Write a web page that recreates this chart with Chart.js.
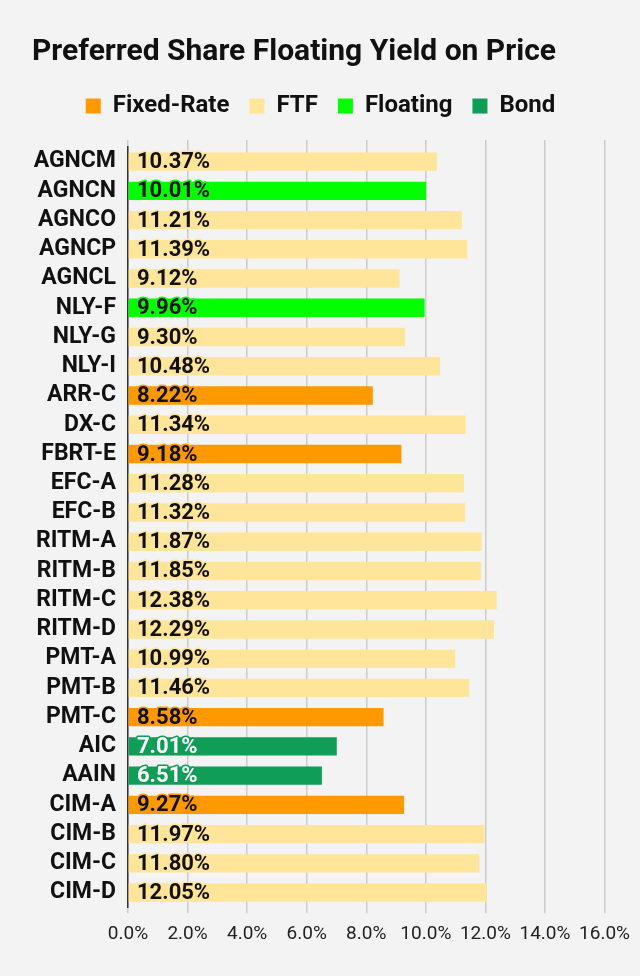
<!DOCTYPE html>
<html>
<head>
<meta charset="utf-8">
<script src="https://cdn.jsdelivr.net/npm/chart.js@4.4.1/dist/chart.umd.min.js"></script>
<style>
  html, body { margin: 0; padding: 0; background: #f3f3f3; }
  #wrap { width: 640px; height: 976px; }
</style>
</head>
<body>
<div id="wrap"><canvas id="yieldChart" width="640" height="976"></canvas></div>
<script>
// chart values
const tickers = ["AGNCM", "AGNCN", "AGNCO", "AGNCP", "AGNCL", "NLY-F", "NLY-G", "NLY-I",
  "ARR-C", "DX-C", "FBRT-E", "EFC-A", "EFC-B", "RITM-A", "RITM-B", "RITM-C", "RITM-D",
  "PMT-A", "PMT-B", "PMT-C", "AIC", "AAIN", "CIM-A", "CIM-B", "CIM-C", "CIM-D"];
const yields = [10.37, 10.01, 11.21, 11.39, 9.12, 9.96, 9.30, 10.48,
  8.22, 11.34, 9.18, 11.28, 11.32, 11.87, 11.85, 12.38, 12.29,
  10.99, 11.46, 8.58, 7.01, 6.51, 9.27, 11.97, 11.80, 12.05];
const kinds = ["FTF", "Floating", "FTF", "FTF", "FTF", "Floating", "FTF", "FTF",
  "Fixed-Rate", "FTF", "Fixed-Rate", "FTF", "FTF", "FTF", "FTF", "FTF", "FTF",
  "FTF", "FTF", "Fixed-Rate", "Bond", "Bond", "Fixed-Rate", "FTF", "FTF", "FTF"];
const seriesNames = ["Fixed-Rate", "FTF", "Floating", "Bond"];
const xTicks = [0, 2, 4, 6, 8, 10, 12, 14, 16];

const colors = {
  "Fixed-Rate": "#ff9900",
  "FTF": "#ffe599",
  "Floating": "#00ff00",
  "Bond": "#0f9d58"
};
const textColors = { "Fixed-Rate": "#111", "FTF": "#111", "Floating": "#111", "Bond": "#fff" };

document.addEventListener("DOMContentLoaded", () => {
  const ctx = document.getElementById("yieldChart").getContext("2d");

  // one dataset per type, null where the ticker is another type
  const datasets = seriesNames.map(name => ({
    label: name,
    data: yields.map((v, i) => (kinds[i] === name ? v : null)),
    backgroundColor: colors[name],
    borderWidth: 0,
    barPercentage: 0.9,
    categoryPercentage: 0.7,
  }));

  // value labels drawn at the start of each bar
  const barLabels = {
    id: "barLabels",
    afterDatasetsDraw(chart) {
      const c = chart.ctx;
      const x0 = chart.scales.x.getPixelForValue(0);
      c.save();
      c.font = "bold 22px Roboto";
      c.textBaseline = "middle";
      c.textAlign = "left";
      c.lineJoin = "round";
      chart.data.datasets.forEach((ds, i) => {
        const meta = chart.getDatasetMeta(i);
        meta.data.forEach((bar, j) => {
          const v = ds.data[j];
          if (v == null) return;
          const txt = v.toFixed(2) + "%";
          c.lineWidth = 3;
          c.strokeStyle = ds.backgroundColor;
          c.strokeText(txt, x0 + 9, bar.y + 1);
          c.fillStyle = textColors[ds.label];
          c.fillText(txt, x0 + 9, bar.y + 1);
        });
      });
      c.restore();
    }
  };

  new Chart(ctx, {
    type: "bar",
    data: { labels: tickers, datasets: datasets },
    options: {
      indexAxis: "y",
      responsive: false,
      animation: false,
      layout: { padding: { left: 32, right: 31, top: 0, bottom: 20 } },
      plugins: {
        title: {
          display: true,
          text: "Preferred Share Floating Yield on Price",
          align: "start",
          color: "#111",
          font: { family: "Roboto", size: 30, weight: "bold" },
          padding: { top: 34, bottom: 4 },
        },
        legend: {
          display: true,
          labels: {
            color: "#111",
            font: { family: "Roboto", size: 24, weight: "bold" },
            boxWidth: 15,
            boxHeight: 15,
            padding: 20,
          },
        },
        tooltip: { enabled: false },
      },
      scales: {
        x: {
          stacked: true,
          min: 0,
          max: 16,
          afterBuildTicks: axis => { axis.ticks = xTicks.map(v => ({ value: v })); },
          ticks: {
            color: "#222",
            font: { family: "Roboto", size: 19 },
            padding: 10,
            autoSkip: false,
            maxRotation: 0,
            callback: v => v.toFixed(1) + "%",
          },
          grid: { color: "#cccccc", lineWidth: 1.5, tickLength: 6 },
          border: { display: false },
        },
        xTop: {
          axis: "x",
          position: "top",
          min: 0,
          max: 16,
          afterBuildTicks: axis => { axis.ticks = xTicks.map(v => ({ value: v })); },
          afterFit: axis => { axis.height = 19; },
          ticks: { display: false },
          grid: { color: "#cccccc", lineWidth: 1.5, tickLength: 7, drawOnChartArea: false },
          border: { display: false },
        },
        y: {
          stacked: true,
          afterFit: axis => { axis.width = 96; },
          ticks: {
            color: "#111",
            font: { family: "Roboto", size: 23, weight: "bold" },
            padding: 12,
            autoSkip: false,
          },
          grid: { display: false, drawTicks: false },
          border: { color: "#333", width: 1.5 },
        },
      },
    },
    plugins: [barLabels],
  });
});
</script>
</body>
</html>
